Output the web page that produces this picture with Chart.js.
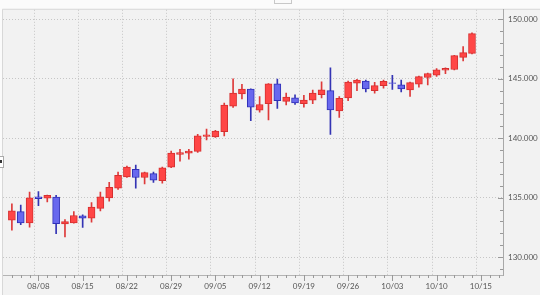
<!DOCTYPE html>
<html>
<head>
<meta charset="utf-8">
<script src="https://cdn.jsdelivr.net/npm/chart.js@4.4.0/dist/chart.umd.min.js"></script>
<style>
html, body { margin: 0; padding: 0; background: #fff; }
#wrap { position: relative; width: 540px; height: 295px; overflow: hidden; }
#tab { position: absolute; left: 274px; top: -2px; width: 16px; height: 4px; border: 1px solid #c8c8c8; background: #fafafa; }
#side { position: absolute; left: -2px; top: 156px; width: 4px; height: 10px; border: 1px solid #aaa; background: #fff; }
#side:after { content: ''; position: absolute; left: 1px; top: 3px; width: 2px; height: 3px; background: #333; }
</style>
</head>
<body>
<div id="wrap">
  <canvas id="chart" width="540" height="295"></canvas>
  <div id="tab"></div>
  <div id="side"></div>
</div>
<script>
// daily candles, trading days only
const dates = ['08/03','08/04','08/05','08/08','08/09','08/10','08/11','08/12','08/15','08/16',
  '08/17','08/18','08/19','08/22','08/23','08/24','08/25','08/26','08/29','08/30',
  '08/31','09/01','09/02','09/05','09/06','09/07','09/08','09/09','09/12','09/13',
  '09/14','09/15','09/16','09/19','09/20','09/21','09/22','09/23','09/26','09/27',
  '09/28','09/29','09/30','10/03','10/04','10/05','10/06','10/07','10/10','10/11',
  '10/12','10/13','10/14'];
const open = [133.11,133.83,132.87,135.08,134.97,135.06,132.79,132.87,133.48,133.28,
  134.10,134.98,135.80,136.75,137.38,136.70,137.02,136.43,137.57,138.64,
  138.75,138.89,140.15,140.11,140.55,142.70,143.72,144.13,142.35,142.90,
  144.57,143.10,143.40,142.90,143.20,143.66,144.00,142.30,143.39,144.62,
  144.80,144.00,144.43,144.66,144.50,144.07,144.54,145.11,145.30,145.72,
  145.78,146.80,147.13];
const high = [134.48,134.38,135.47,135.52,135.22,135.20,133.15,133.83,133.56,134.59,
  135.47,136.30,137.16,137.65,137.74,137.16,137.16,137.57,138.93,139.07,
  139.07,140.33,140.78,140.66,142.95,145.00,144.54,144.15,143.50,144.60,
  144.97,143.80,143.66,143.60,144.05,144.75,145.93,143.50,144.80,144.95,
  144.90,144.70,144.90,145.30,144.90,144.72,145.22,145.47,145.85,145.92,
  146.97,147.70,148.86];
const low = [132.27,132.74,132.52,134.32,134.65,131.97,131.70,132.85,132.50,132.95,
  133.89,134.70,135.69,136.70,135.80,136.15,136.29,136.23,137.52,138.07,
  138.25,138.80,139.85,140.06,140.20,142.60,143.30,141.48,142.20,141.55,
  142.50,142.80,142.84,142.62,142.90,143.40,140.33,141.75,143.15,144.00,
  143.89,143.80,144.20,144.10,143.89,143.52,144.30,144.48,145.20,145.42,
  145.75,146.50,147.08];
const close = [133.89,132.87,134.98,134.92,135.20,132.82,133.00,133.50,133.28,134.21,
  135.08,135.88,136.89,137.57,136.70,137.11,136.48,137.52,138.75,138.80,
  138.93,140.20,140.28,140.60,142.79,143.80,144.13,142.62,142.84,144.57,
  143.15,143.47,142.98,143.20,143.80,144.07,142.38,143.35,144.72,144.90,
  144.15,144.43,144.78,144.60,144.15,144.68,145.18,145.44,145.75,145.88,
  146.95,147.20,148.80];

// axis
const extraSlots = ['10/15'];
const tickLabels = ['08/08','08/15','08/22','08/29','09/05','09/12','09/19','09/26','10/03','10/10','10/15'];
const yLabels = [130, 135, 140, 145, 150];

const slots = dates.concat(extraSlots);
const labelAt = {};
tickLabels.forEach(l => { labelAt[slots.indexOf(l)] = l; });
const rising = dates.map((d, i) => close[i] >= open[i]);

const backdrop = {
  id: 'backdrop',
  beforeDraw(chart) {
    const {ctx, chartArea: a} = chart;
    ctx.save();
    ctx.fillStyle = '#f2f2f2';
    ctx.fillRect(0, 0, chart.width, chart.height);
    ctx.fillStyle = '#fbfbfb';
    ctx.fillRect(0, 0, chart.width, a.top - 1);
    ctx.fillRect(0, 0, a.left - 1, chart.height);
    ctx.strokeStyle = '#d8d8d8';
    ctx.lineWidth = 1;
    ctx.beginPath();
    ctx.moveTo(a.left - 0.5, chart.height);
    ctx.lineTo(a.left - 0.5, a.top - 0.5);
    ctx.lineTo(chart.width, a.top - 0.5);
    ctx.stroke();
    ctx.restore();
  }
};

// small tick marks: x below the axis, y inside the plot
const tickMarks = {
  id: 'tickMarks',
  afterDraw(chart) {
    const {ctx, scales: {x, y}} = chart;
    ctx.save();
    ctx.strokeStyle = '#999';
    ctx.lineWidth = 1;
    ctx.beginPath();
    x.ticks.forEach(t => {
      const px = Math.round(x.getPixelForValue(t.value)) + 0.5;
      ctx.moveTo(px, x.top);
      ctx.lineTo(px, x.top + (t.label ? 6 : 3));
    });
    y.ticks.forEach(t => {
      const py = Math.round(y.getPixelForValue(t.value)) + 0.5;
      ctx.moveTo(y.left, py);
      ctx.lineTo(y.left - (t.label ? 5 : 3), py);
    });
    ctx.stroke();
    ctx.restore();
  }
};

const tickFont = {family: 'Lato', size: 8};

new Chart(document.getElementById('chart'), {
  type: 'bar',
  data: {
    datasets: [{
      // bodies
      data: dates.map((d, i) => ({x: i, y: [open[i], close[i]]})),
      backgroundColor: rising.map(up => up ? '#ff4646' : '#6868ee'),
      borderColor: rising.map(up => up ? '#d63030' : '#3030b8'),
      borderWidth: 1,
      borderSkipped: false,
      barThickness: 7,
      grouped: false,
      order: 0
    }, {
      // wicks
      data: dates.map((d, i) => ({x: i, y: [low[i], high[i]]})),
      backgroundColor: rising.map(up => up ? '#de3a3a' : '#3434b4'),
      borderWidth: 0,
      barThickness: 1,
      grouped: false,
      order: 1
    }]
  },
  options: {
    responsive: false,
    animation: false,
    events: [],
    layout: {padding: {left: 3, top: 3}},
    plugins: {legend: {display: false}, tooltip: {enabled: false}},
    scales: {
      x: {
        type: 'linear',
        min: -0.5,
        max: 55,
        afterFit(s) { s.height = 20; },
        ticks: {
          stepSize: 1,
          autoSkip: false,
          includeBounds: false,
          maxRotation: 0,
          padding: 7,
          color: '#555',
          font: tickFont,
          callback: v => labelAt[v] || ''
        },
        grid: {
          drawTicks: false,
          color: c => (c.tick && labelAt[c.tick.value]) ? '#c6c6c6' : 'rgba(0,0,0,0)'
        },
        border: {color: '#b4b4b4', dash: [1, 2]}
      },
      y: {
        position: 'right',
        min: 128.5,
        max: 150.8,
        afterFit(s) { s.width = 37; },
        ticks: {
          stepSize: 1,
          autoSkip: false,
          includeBounds: false,
          padding: 5,
          color: '#555',
          font: tickFont,
          callback: v => yLabels.includes(v) ? v.toFixed(3) : ''
        },
        grid: {
          drawTicks: false,
          color: c => (c.tick && yLabels.includes(c.tick.value)) ? '#c6c6c6' : 'rgba(0,0,0,0)'
        },
        border: {color: '#a8a8a8', dash: [1, 2]}
      }
    }
  },
  plugins: [backdrop, tickMarks]
});
</script>
</body>
</html>
